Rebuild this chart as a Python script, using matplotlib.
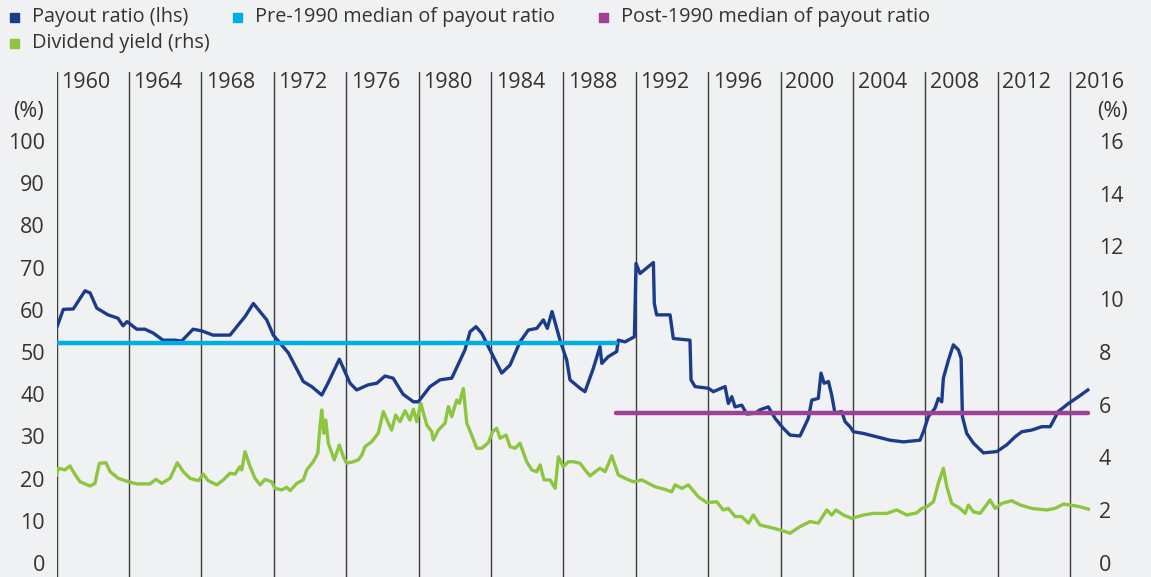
import matplotlib
matplotlib.use('Agg')
import matplotlib.pyplot as plt
from matplotlib.patches import Rectangle
import matplotlib.transforms as mtransforms

plt.rcParams['font.family'] = ['Open Sans', 'DejaVu Sans']

# payout ratio (lhs, %)
payout_year = [1960.0, 1960.37, 1960.92, 1961.57, 1961.85, 1962.22, 1962.84, 1963.39, 1963.67, 1963.89,
               1964.43, 1964.88, 1965.33, 1965.88, 1966.54, 1966.91, 1967.54, 1968.02, 1968.64, 1969.58,
               1970.41, 1970.87, 1971.61, 1971.97, 1972.80, 1973.63, 1974.09, 1974.65, 1974.99, 1975.62,
               1976.21, 1976.58, 1977.20, 1977.69, 1978.14, 1978.59, 1979.14, 1979.71, 1979.98, 1980.63,
               1981.18, 1981.83, 1982.56, 1982.84, 1983.17, 1983.49, 1983.94, 1984.59, 1985.05, 1985.60,
               1986.06, 1986.53, 1986.89, 1987.11, 1987.37, 1987.81, 1988.18, 1988.36, 1988.92, 1989.19,
               1989.65, 1990.02, 1990.12, 1990.48, 1990.94, 1991.03, 1991.40, 1991.92, 1992.01, 1992.23,
               1992.97, 1993.02, 1993.15, 1993.89, 1994.07, 1994.99, 1995.05, 1995.27, 1996.01, 1996.28,
               1996.93, 1997.11, 1997.30, 1997.48, 1997.85, 1998.13, 1998.59, 1998.86, 1999.32, 1999.69,
               2000.15, 2000.52, 2001.07, 2001.53, 2001.72, 2002.08, 2002.23, 2002.40, 2002.64, 2002.82,
               2003.00, 2003.37, 2003.56, 2003.83, 2004.02, 2004.57, 2005.31, 2006.04, 2006.78, 2007.70,
               2007.92, 2008.16, 2008.53, 2008.71, 2008.90, 2008.99, 2009.27, 2009.54, 2009.82, 2009.97,
               2010.04, 2010.28, 2010.65, 2011.20, 2011.94, 2012.49, 2012.95, 2013.32, 2013.87, 2014.43,
               2014.89, 2015.34, 2015.90, 2016.45, 2016.97]
payout_val = [55.7, 60.1, 60.2, 64.5, 64.0, 60.4, 58.8, 58.0, 56.2, 57.2,
              55.4, 55.4, 54.5, 52.8, 52.8, 52.6, 55.4, 55.0, 54.0, 54.0,
              58.4, 61.5, 57.6, 54.0, 49.8, 43.0, 41.8, 39.8, 42.6, 48.3,
              42.6, 41.0, 42.2, 42.6, 44.3, 43.8, 40.0, 38.2, 38.2, 41.8,
              43.4, 43.8, 50.5, 54.8, 56.0, 54.4, 50.5, 45.0, 46.9, 52.4,
              55.2, 55.6, 57.6, 55.6, 59.6, 52.8, 48.1, 43.4, 41.4, 40.6,
              46.1, 51.3, 47.3, 48.9, 50.1, 52.8, 52.4, 53.6, 71.0, 68.6,
              71.2, 61.5, 58.8, 58.8, 53.2, 52.8, 43.4, 41.8, 41.4, 40.6,
              41.8, 37.8, 39.4, 37.0, 37.4, 35.3, 35.5, 36.3, 37.0, 34.3,
              31.9, 30.3, 30.1, 34.3, 38.6, 39.0, 45.0, 42.6, 43.0, 39.8,
              35.5, 35.9, 33.5, 32.3, 31.1, 30.7, 29.9, 29.1, 28.7, 29.1,
              31.5, 34.7, 36.7, 39.0, 38.2, 43.8, 48.1, 51.7, 50.5, 48.5,
              34.7, 30.7, 28.4, 26.1, 26.4, 28.0, 29.9, 31.1, 31.5, 32.3,
              32.3, 35.9, 37.8, 39.4, 41.0]

# dividend yield (rhs, %)
yield_year = [1960.0, 1960.09, 1960.46, 1960.74, 1960.92, 1961.29, 1961.85, 1962.12, 1962.36, 1962.73,
              1962.96, 1963.41, 1963.96, 1964.43, 1965.16, 1965.49, 1965.81, 1966.27, 1966.67, 1967.00,
              1967.37, 1967.83, 1968.10, 1968.38, 1968.85, 1969.21, 1969.58, 1969.86, 1970.13, 1970.23,
              1970.41, 1970.69, 1970.96, 1971.24, 1971.51, 1971.88, 1972.07, 1972.44, 1972.71, 1972.90,
              1973.27, 1973.63, 1973.82, 1974.18, 1974.43, 1974.55, 1974.65, 1974.76, 1974.87, 1975.01,
              1975.34, 1975.62, 1975.84, 1976.03, 1976.39, 1976.67, 1976.86, 1977.04, 1977.41, 1977.77,
              1978.05, 1978.33, 1978.51, 1978.73, 1978.97, 1979.25, 1979.52, 1979.71, 1979.90, 1980.12,
              1980.45, 1980.72, 1980.81, 1981.09, 1981.46, 1981.64, 1981.83, 1982.10, 1982.25, 1982.47,
              1982.66, 1982.93, 1983.21, 1983.49, 1983.85, 1984.09, 1984.31, 1984.50, 1984.83, 1985.05,
              1985.33, 1985.60, 1985.97, 1986.25, 1986.53, 1986.71, 1986.93, 1987.26, 1987.54, 1987.72,
              1987.99, 1988.27, 1988.55, 1988.92, 1989.19, 1989.47, 1989.75, 1990.02, 1990.30, 1990.67,
              1991.03, 1991.40, 1991.86, 1992.33, 1992.69, 1993.06, 1993.61, 1993.98, 1994.17, 1994.54,
              1994.90, 1995.45, 1995.92, 1996.47, 1996.83, 1997.11, 1997.48, 1997.85, 1998.22, 1998.49,
              1998.86, 1999.60, 1999.97, 2000.52, 2001.07, 2001.62, 2002.08, 2002.55, 2002.82, 2003.06,
              2003.46, 2003.93, 2004.57, 2005.12, 2005.86, 2006.41, 2006.97, 2007.52, 2007.80, 2008.07,
              2008.44, 2008.71, 2008.99, 2009.18, 2009.45, 2009.91, 2010.19, 2010.37, 2010.65, 2011.02,
              2011.57, 2011.85, 2012.21, 2012.77, 2013.23, 2013.87, 2014.70, 2015.16, 2015.62, 2015.99,
              2016.54, 2017.00]
yield_val = [3.34, 3.59, 3.53, 3.68, 3.46, 3.08, 2.92, 3.02, 3.78, 3.80,
             3.46, 3.21, 3.08, 3.00, 3.00, 3.17, 3.02, 3.21, 3.80, 3.46,
             3.21, 3.12, 3.37, 3.12, 2.96, 3.15, 3.40, 3.37, 3.65, 3.53,
             4.22, 3.65, 3.21, 2.96, 3.17, 3.08, 2.83, 2.77, 2.87, 2.74,
             3.02, 3.15, 3.53, 3.84, 4.16, 5.17, 5.80, 4.92, 5.42, 4.54,
             3.91, 4.47, 4.03, 3.78, 3.84, 3.91, 4.09, 4.41, 4.60, 4.92,
             5.74, 5.30, 5.04, 5.61, 5.36, 5.77, 5.42, 5.83, 5.36, 6.05,
             5.23, 4.98, 4.66, 5.04, 5.30, 5.93, 5.55, 6.18, 6.05, 6.62,
             5.30, 4.85, 4.35, 4.35, 4.56, 4.98, 5.11, 4.73, 4.85, 4.41,
             4.35, 4.54, 3.84, 3.53, 3.46, 3.72, 3.15, 3.15, 2.83, 4.03,
             3.65, 3.84, 3.84, 3.78, 3.53, 3.30, 3.46, 3.59, 3.46, 4.06,
             3.34, 3.21, 3.08, 3.15, 3.02, 2.89, 2.79, 2.70, 2.96, 2.83,
             2.96, 2.51, 2.29, 2.32, 2.01, 2.07, 1.76, 1.76, 1.51, 1.82,
             1.44, 1.32, 1.25, 1.13, 1.38, 1.57, 1.51, 2.01, 1.82, 2.01,
             1.82, 1.69, 1.82, 1.88, 1.88, 2.01, 1.82, 1.90, 2.07, 2.13,
             2.32, 3.02, 3.59, 2.89, 2.26, 2.07, 1.88, 2.20, 1.94, 1.88,
             2.39, 2.07, 2.26, 2.36, 2.20, 2.07, 2.01, 2.07, 2.23, 2.20,
             2.13, 2.04]

pre_median = 52.2
post_median = 35.5
start_year, split_year, end_year = 1960.0, 1990.9, 2017.0
year_lines = list(range(1960, 2017, 4))
left_ticks = list(range(0, 101, 10))
right_ticks = list(range(0, 17, 2))

bg = '#f0f1f3'
c_payout = '#1a3c8b'
c_pre = '#00aee6'
c_post = '#9e3f98'
c_yield = '#8cc63f'
txt = '#333333'

W, H = 1151, 577
fig = plt.figure(figsize=(W / 100, H / 100), dpi=100, facecolor=bg)
ax = fig.add_axes([56.6 / W, 0, (1092 - 56.6) / W, 505 / H])
ax.set_facecolor(bg)
ax.set_xlim(1960, 2017.2)
ax.set_ylim(-3.32, 116.35)
ax2 = ax.twinx()
ax2.set_ylim(-3.32 * 0.16, 116.35 * 0.16)

for yr in year_lines:
    ax.axvline(yr, color='#3c3c3c', lw=1.0, zorder=0)

trans = mtransforms.blended_transform_factory(ax.transData, ax.transAxes)
for yr in year_lines:
    ax.text(yr + 0.25, 0.98, str(yr), transform=trans, ha='left', va='center',
            fontsize=15.5, color=txt)

ax.plot(payout_year, payout_val, color=c_payout, lw=2.4, zorder=3)
ax.plot([start_year, split_year], [pre_median, pre_median], color=c_pre, lw=3.2,
        zorder=4, solid_capstyle='round')
ax.plot([split_year, end_year], [post_median, post_median], color=c_post, lw=3.2,
        zorder=4, solid_capstyle='round')
ax2.plot(yield_year, yield_val, color=c_yield, lw=2.4, zorder=3)

for a in (ax, ax2):
    for s in a.spines.values():
        s.set_visible(False)
    a.set_xticks([])
ax.set_yticks(left_ticks)
ax.tick_params(axis='y', length=0, pad=8.5, labelsize=15.5, labelcolor=txt)
ax2.set_yticks(right_ticks)
ax2.tick_params(axis='y', length=0, pad=5, labelsize=15.5, labelcolor=txt)

fig.text(44 / W, 1 - 112 / H, '(%)', ha='right', va='center', fontsize=15.5, color=txt)
fig.text(1097 / W, 1 - 112 / H, '(%)', ha='left', va='center', fontsize=15.5, color=txt)

# legend drawn by hand
legend_items = [('Payout ratio (lhs)', c_payout, 14, 17),
                ('Pre-1990 median of payout ratio', c_pre, 237, 17),
                ('Post-1990 median of payout ratio', c_post, 603, 17),
                ('Dividend yield (rhs)', c_yield, 14, 43)]
for label, col, xm, ym in legend_items:
    fig.add_artist(Rectangle(((xm - 4.5) / W, 1 - (ym + 4.5) / H), 9 / W, 9 / H,
                             transform=fig.transFigure, color=col))
    fig.text((xm + 18) / W, 1 - ym / H, label, ha='left', va='center',
             fontsize=14.3, color=txt)

plt.savefig('out.png', dpi=100, facecolor=bg)
